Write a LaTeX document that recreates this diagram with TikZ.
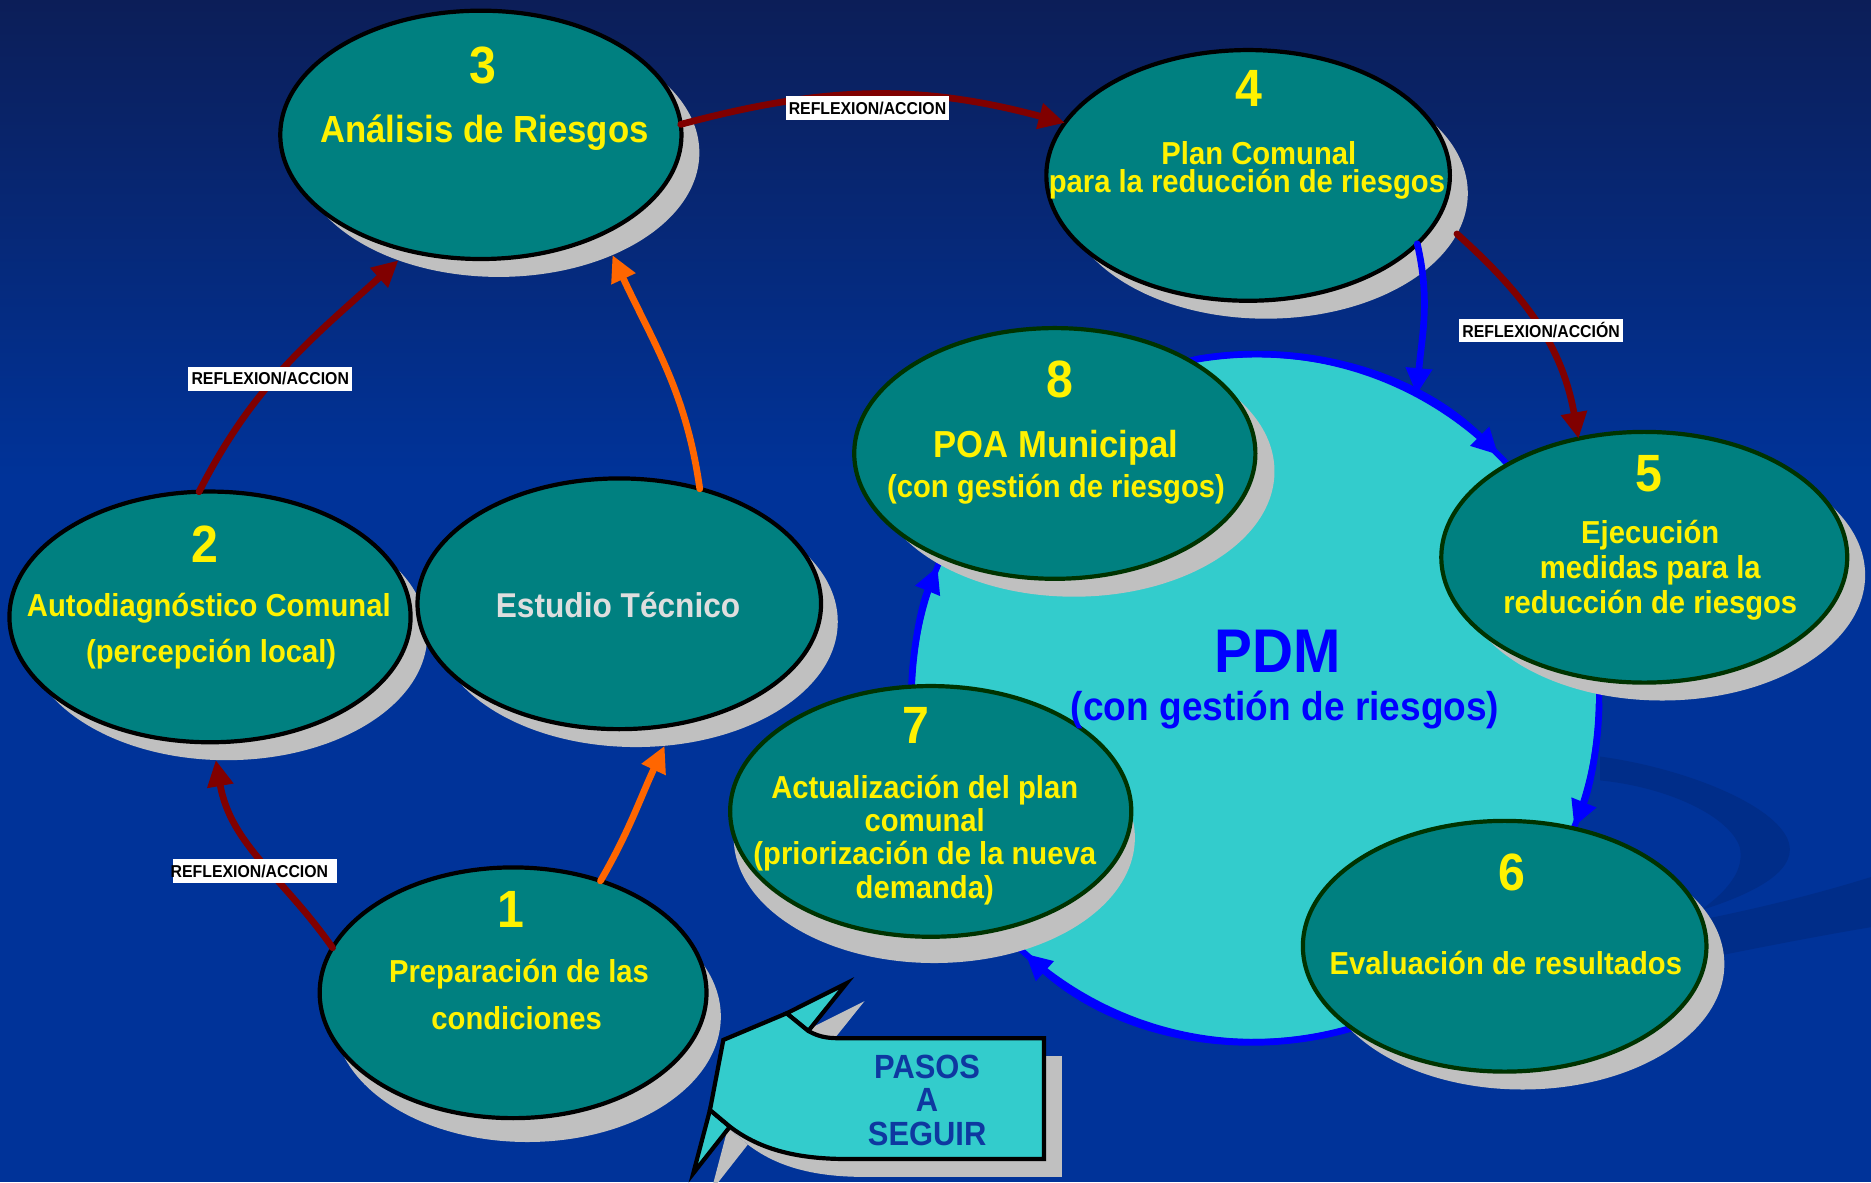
\documentclass[tikz,border=0pt]{standalone}
\usepackage{fontspec}
\setmainfont{Liberation Sans}[FakeStretch=0.92]
\usetikzlibrary{shapes.geometric,arrows.meta}
\definecolor{tealfill}{RGB}{0,128,128}
\definecolor{shadowgrey}{RGB}{192,192,192}
\definecolor{darkred}{RGB}{128,0,0}
\definecolor{orng}{RGB}{255,102,0}
\definecolor{cyanfill}{RGB}{51,204,204}
\definecolor{dkgreen}{RGB}{0,51,0}
\definecolor{bgtop}{RGB}{12,30,88}
\definecolor{bgmain}{RGB}{0,51,153}
\definecolor{swoosh}{RGB}{0,45,137}
\definecolor{pasostxt}{RGB}{14,56,160}
\definecolor{pureblue}{RGB}{0,0,255}
\definecolor{esttxt}{RGB}{222,222,222}
\newcommand\myfs[2]{\fontsize{#1}{#2}\selectfont}
\tikzset{
  ell/.style={ellipse, fill=tealfill, line width=1pt, inner sep=0pt, outer sep=0pt,
              minimum width=3.36cm, minimum height=2.10cm},
  shd/.style={ellipse, fill=shadowgrey, inner sep=0pt, outer sep=0pt,
              minimum width=3.36cm, minimum height=2.10cm},
  num/.style={text=yellow, font=\bfseries\myfs{12.5}{14}, inner sep=0pt},
  lab/.style={text=yellow, font=\bfseries\myfs{7.57}{9}, inner sep=0pt, align=center},
  refl/.style={fill=white, text=black, font=\bfseries\myfs{4.1}{5}, inner sep=0pt,
               minimum width=1.37cm, minimum height=0.195cm},
  arr/.style={line width=1.6pt, line cap=round, -{Triangle[length=0.22cm,width=0.21cm]}},
  redarr/.style={arr, draw=darkred},
  orarr/.style={arr, draw=orng},
  bluarr/.style={arr, draw=pureblue},
}
\begin{document}
\begin{tikzpicture}[x=0.01cm,y=0.01cm]
\useasboundingbox (0,0) rectangle (1568,-990.6);
% background
\fill[bgmain] (0,0) rectangle (1568,-990.6);
\shade[top color=bgtop, bottom color=bgmain] (0,0) rectangle (1568,-400);
\fill[swoosh] (1341,-634) .. controls (1420,-645) and (1500,-680) .. (1500,-712)
  .. controls (1500,-735) and (1460,-752) .. (1425,-763)
  .. controls (1450,-745) and (1462,-728) .. (1458,-710)
  .. controls (1450,-685) and (1400,-660) .. (1341,-654) -- cycle;
\fill[swoosh] (1420,-772) .. controls (1470,-762) and (1520,-750) .. (1568,-735)
  -- (1568,-777) .. controls (1520,-785) and (1470,-795) .. (1420,-805) -- cycle;

% PDM circle
\node[circle, fill=cyanfill, draw=pureblue, line width=1.4pt, inner sep=0pt, outer sep=0pt,
      minimum size=5.76cm] (pdm) at (1052,-585) {};
\draw[bluarr] (pdm.100) arc[start angle=100, end angle=45, radius=288];
\draw[bluarr] (pdm.-1) arc[start angle=-1, end angle=-22, radius=288];
\draw[bluarr] (pdm.-72) arc[start angle=-72, end angle=-132, radius=288];
\draw[bluarr] (pdm.178) arc[start angle=178, end angle=157.5, radius=288];

% ellipses
\node[shd, minimum width=3.36cm, minimum height=2.08cm] (n3s) at (418,-128) {};
\node[ell, draw=black, minimum width=3.36cm, minimum height=2.08cm] (n3) at (403,-113) {};
\node[shd, minimum width=3.38cm] (n4s) at (1061,-162) {};
\node[ell, draw=black, minimum width=3.38cm] (n4) at (1046,-147) {};
\node[shd] (n2s) at (190,-532) {};
\node[ell, draw=black] (n2) at (176,-517) {};
\node[shd, minimum width=3.38cm] (ests) at (533,-521) {};
\node[ell, draw=black, minimum width=3.38cm] (est) at (519,-506) {};
\node[shd, minimum width=3.24cm] (n1s) at (442,-852) {};
\node[ell, draw=black, minimum width=3.24cm] (n1) at (430,-832) {};
\node[shd] (n8s) at (900,-395) {};
\node[ell, draw=dkgreen] (n8) at (884,-380) {};
\node[shd, minimum width=3.40cm] (n5s) at (1393,-482) {};
\node[ell, draw=dkgreen, minimum width=3.40cm] (n5) at (1378,-467) {};
\node[shd, minimum width=3.38cm] (n6s) at (1276,-808) {};
\node[ell, draw=dkgreen, minimum width=3.38cm] (n6) at (1261,-793) {};
\node[shd] (n7s) at (783,-702) {};
\node[ell, draw=dkgreen] (n7) at (780,-680) {};

% texts
\node[num] (t3a) at (405,-55) {3};
\node[lab, font=\bfseries\myfs{9}{10}] (t3b) at (406,-111) {Análisis de Riesgos};
\node[num] (t4a) at (1047,-74) {4};
\node[lab] (t4b) at (1055,-128) {Plan Comunal};
\node[lab] (t4c) at (1045,-154) {para la reducción de riesgos};
\node[num] (t8a) at (888,-318) {8};
\node[lab, font=\bfseries\myfs{8.97}{10}] (t8b) at (885,-375) {POA Municipal};
\node[lab] (t8c) at (885,-410) {(con gestión de riesgos)};
\node[num] (t2a) at (172,-456) {2};
\node[lab] (t2b) at (175,-510) {Autodiagnóstico Comunal};
\node[lab] (t2c) at (177,-548) {(percepción local)};
\node[lab, text=esttxt, font=\bfseries\myfs{8.2}{10}] (testa) at (518,-507) {Estudio Técnico};
\node[num] (t1a) at (428,-762) {1};
\node[lab] (t1b) at (435,-816) {Preparación de las};
\node[lab] (t1c) at (433,-853) {condiciones};
\node[num] (t7a) at (768,-608) {7};
\node[lab, font=\bfseries\myfs{7.57}{7.88}] (t7b) at (775,-704) {Actualización del plan\\comunal\\(priorización de la nueva\\demanda)};
\node[num] (t5a) at (1382,-397) {5};
\node[lab, font=\bfseries\myfs{7.57}{8.39}] (t5b) at (1383,-478) {Ejecución\\medidas para la\\reducción de riesgos};
\node[num] (t6a) at (1267,-731) {6};
\node[lab] (t6b) at (1262,-807) {Evaluación de resultados};
\node[text=pureblue, font=\bfseries\myfs{14.7}{16}, inner sep=0pt] (tpdm) at (1071,-546) {PDM};
\node[text=pureblue, font=\bfseries\myfs{9.6}{11}, inner sep=0pt] (tpdm2) at (1077,-595) {(con gestión de riesgos)};

% connectors
\draw[redarr] (n1.166.8) to[out=125, in=-80] (n2s.-95);
\draw[redarr] (n2.95) to[out=63, in=-138] (n3s.-133);
\draw[redarr] (n3.3) to[out=15, in=165] (n4.164);
\draw[redarr] (n4s.-12) to[out=-42, in=100] (n5.119);
\draw[orarr] (n1.52.7) to[out=60, in=-115] (ests.-77);
\draw[orarr] (est.55.5) to[out=98, in=-65] (n3s.-42);
\draw[bluarr] (n4.-22) to[out=-77, in=85] (pdm.62);

% labels
\node[refl] (l12) at (213.5,-730) {\hspace*{-0.09cm}REFLEXION/ACCION};
\node[refl] (l23) at (226.5,-317.5) {REFLEXION/ACCION};
\node[refl] (l34) at (727,-90.5) {REFLEXION/ACCION};
\node[refl] (l45) at (1291.5,-277) {REFLEXION/ACCIÓN};

% callout "PASOS A SEGUIR"
\begin{scope}[shift={(15,-15)}]
\fill[shadowgrey] (606.2,-871.5) -- (659.2,-849.2) -- (677.4,-864.0) .. controls (688,-870) and (696,-870.1) .. (706.7,-870.1)
  -- (874.9,-870.1) -- (874.9,-971.3) -- (709.5,-971.3) .. controls (665,-971.3) and (635,-962) .. (611.7,-944.2)
  -- (595.0,-930.2) -- cycle;
\fill[shadowgrey] (659.2,-849.2) -- (709.5,-824.0) -- (677.4,-864.0) -- cycle;
\fill[shadowgrey] (595.0,-930.2) -- (581.0,-983.3) -- (611.7,-944.2) -- cycle;
\end{scope}
\filldraw[fill=cyanfill, draw=black, line width=1pt, line join=miter] (659.2,-849.2) -- (709.5,-824.0) -- (677.4,-864.0) -- cycle;
\filldraw[fill=cyanfill, draw=black, line width=1pt, line join=miter] (595.0,-930.2) -- (581.0,-983.3) -- (611.7,-944.2) -- cycle;
\filldraw[fill=cyanfill, draw=black, line width=1pt, line join=miter] (606.2,-871.5) -- (659.2,-849.2) -- (677.4,-864.0) .. controls (688,-870) and (696,-870.1) .. (706.7,-870.1)
  -- (874.9,-870.1) -- (874.9,-971.3) -- (709.5,-971.3) .. controls (665,-971.3) and (635,-962) .. (611.7,-944.2)
  -- (595.0,-930.2) -- cycle;
\node[text=pasostxt, font=\bfseries\myfs{8}{7.97}, align=center, inner sep=0pt] (pasos) at (777,-922) {PASOS\\A\\SEGUIR};
\end{tikzpicture}
\end{document}
